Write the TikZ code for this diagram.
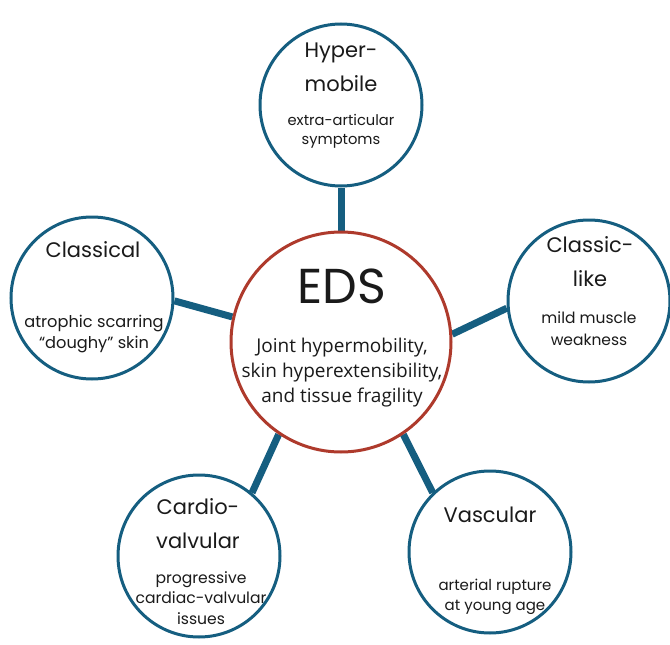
\documentclass[tikz,border=0pt]{standalone}
\usepackage{fontspec}
\setmainfont{Poppins}
\newfontfamily\bodyfont{Open Sans}
\usetikzlibrary{backgrounds}
\definecolor{edsteal}{HTML}{155E80}
\definecolor{edsred}{HTML}{AE3A2C}
\definecolor{ink}{HTML}{1A1A1A}
\begin{document}
\begin{tikzpicture}[x=1pt,y=-1pt,
  subc/.style={circle,draw=edsteal,line width=3pt,fill=white,minimum size=162pt,inner sep=0pt},
  mainc/.style={circle,draw=edsred,line width=3pt,fill=white,minimum size=220pt,inner sep=0pt},
  link/.style={draw=edsteal,line width=7pt},
  ttl/.style={align=center,anchor=base,font=\fontsize{21}{34}\selectfont,text=ink,inner sep=0pt},
  dsc/.style={align=center,anchor=base,text=ink,inner sep=0pt}]
\useasboundingbox (0,0) rectangle (670,645);
\node[mainc] (eds) at (341,342) {};
\node[subc] (hyper) at (341,105) {};
\node[subc] (classical) at (92,298) {};
\node[subc] (classiclike) at (589,301) {};
\node[subc] (cardio) at (199,556) {};
\node[subc] (vascular) at (490,552) {};
\begin{scope}[on background layer]
\draw[link] (classical.-2) -- (eds.167);
\draw[link] (eds.4) -- (classiclike.185);
\draw[link] (hyper.270) -- (eds.90);
\draw[link] (cardio.50) -- (eds.236);
\draw[link] (vascular.134) -- (eds.304);
\end{scope}
% multi-line nodes: the base anchor sits on the last line's baseline
\node[ttl] (hypert) at (341,91) {Hyper-\\mobile};
\node[dsc,font=\fontsize{14.7}{19}\selectfont] (hyperd) at (341,144) {extra-articular\\symptoms};
\node[ttl] (classicalt) at (93,257) {Classical};
\node[dsc,font=\fontsize{16.2}{21}\selectfont] (classicald) at (94,348) {atrophic scarring\\“doughy” skin};
\node[ttl] (classicliket) at (590,286) {Classic-\\like};
\node[dsc,font=\fontsize{15.5}{22}\selectfont] (classicliked) at (589,345) {mild muscle\\weakness};
\node[ttl] (cardiot) at (198,548) {Cardio-\\valvular};
\node[dsc,font=\fontsize{15.6}{20.5}\selectfont] (cardiod) at (201,624) {progressive\\cardiac-valvular\\issues};
\node[ttl] (vasculart) at (490,522) {Vascular};
\node[dsc,font=\fontsize{15}{20}\selectfont] (vasculard) at (495,610) {arterial rupture\\at young age};
\node[ttl,font=\fontsize{49}{52}\selectfont] (edst) at (342,303) {EDS};
\node[dsc,font=\bodyfont\fontsize{19}{25}\selectfont] (edsd) at (342,402) {Joint hypermobility,\\skin hyperextensibility,\\and tissue fragility};
\end{tikzpicture}
\end{document}
